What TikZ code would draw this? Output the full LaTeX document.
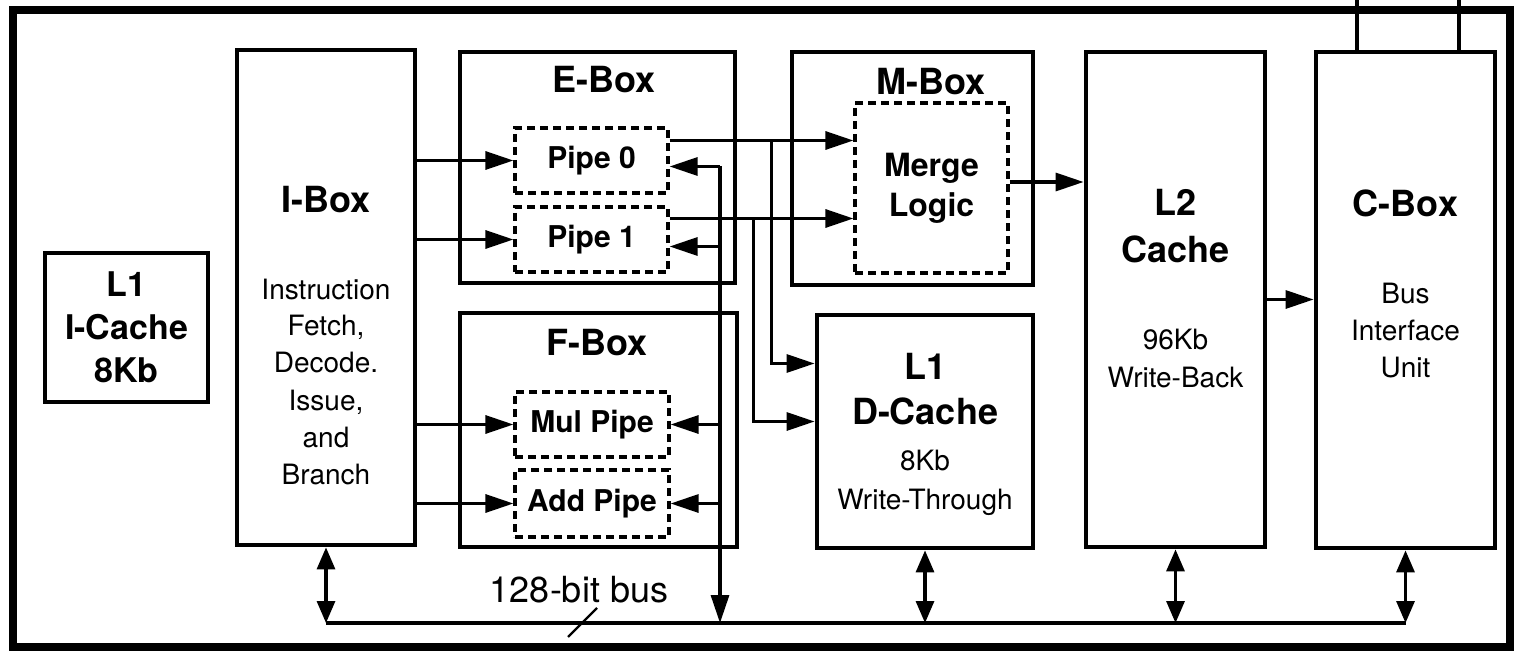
\documentclass[tikz,border=0pt]{standalone}
\usepackage{fontspec}
\setmainfont{TeX Gyre Heros}
\usetikzlibrary{arrows.meta, positioning}

\begin{document}
\begin{tikzpicture}[x=0.5pt, y=-0.5pt, >={Triangle[length=14pt, width=9pt]}, line width=1.6pt]
        \tikzstyle{unitBox} = [rectangle, draw=black, line width=2.4pt, inner sep=0pt]
        \tikzstyle{pipeBox} = [rectangle, draw=black, line width=1.6pt, dash pattern=on 4pt off 2.5pt, inner sep=0pt, align=center, font=\fontsize{15}{19}\selectfont\bfseries]
        \tikzstyle{titleText} = [align=center, inner sep=0pt, font=\fontsize{18}{22.5}\selectfont\bfseries]
        \tikzstyle{descText} = [align=center, inner sep=0pt, font=\fontsize{14}{18.5}\selectfont]
        \tikzstyle{busArrow} = [{Triangle[length=11pt, width=9pt]}-{Triangle[length=11pt, width=9pt]}]

        \useasboundingbox (0,0) rectangle (1518,652);

        % chip outline
        \node[rectangle, draw, line width=4pt, minimum width=748.5pt, minimum height=318.5pt] (chip) at (761.5,328.5) {};

        \node[unitBox, titleText, font=\fontsize{17}{21.5}\selectfont\bfseries, minimum width=81.5pt, minimum height=74.5pt] (icache) at (126.5,327.5) {L1\\I-Cache\\8Kb};

        \node[unitBox, minimum width=89pt, minimum height=247.5pt] (ibox) at (326,297.5) {};
        \node[titleText] (iboxTitle) at (326,200) {I-Box};
        \node[descText] (iboxText) at (326,381.5) {Instruction\\Fetch,\\Decode.\\Issue,\\and\\Branch};

        \node[unitBox, minimum width=137.5pt, minimum height=115.5pt] (ebox) at (597.5,167.5) {};
        \node[titleText] (eboxTitle) at (604,80) {E-Box};
        \node[pipeBox, minimum width=76.5pt, minimum height=32.5pt] (pipe0) at (591.5,160.5) {Pipe 0};
        \node[pipeBox, minimum width=76.5pt, minimum height=32.5pt] (pipe1) at (591.5,239.5) {Pipe 1};

        \node[unitBox, minimum width=138.5pt, minimum height=117pt] (fbox) at (598.5,430) {};
        \node[titleText] (fboxTitle) at (597,343) {F-Box};
        \node[pipeBox, minimum width=77pt, minimum height=32.5pt] (mulpipe) at (592,424.5) {Mul Pipe};
        \node[pipeBox, minimum width=77pt, minimum height=33.5pt] (addpipe) at (592,503.5) {Add Pipe};

        \node[unitBox, minimum width=120.5pt, minimum height=116.5pt] (mbox) at (912.5,168.5) {};
        \node[titleText] (mboxTitle) at (931,82) {M-Box};
        \node[pipeBox, font=\fontsize{16}{20}\selectfont\bfseries, minimum width=76.5pt, minimum height=85pt] (merge) at (931.5,188) {Merge\\Logic};

        \node[unitBox, minimum width=108pt, minimum height=116.5pt] (dcache) at (925,431.5) {};
        \node[titleText] (dcacheTitle) at (925,389.5) {L1\\D-Cache};
        \node[descText, font=\fontsize{14}{19.5}\selectfont] (dcacheText) at (925,482.5) {8Kb\\Write-Through};

        \node[unitBox, minimum width=89.5pt, minimum height=247.5pt] (ltwo) at (1175.5,299.5) {};
        \node[titleText, font=\fontsize{18}{23.5}\selectfont\bfseries] (ltwoTitle) at (1175.5,226.5) {L2\\Cache};
        \node[descText] (ltwoText) at (1175.5,358.5) {96Kb\\Write-Back};

        \node[unitBox, minimum width=89.5pt, minimum height=248pt] (cbox) at (1405.5,300) {};
        \node[titleText] (cboxTitle) at (1405.5,203) {C-Box};
        \node[descText] (cboxText) at (1405.5,330.5) {Bus\\Interface\\Unit};

        % issue paths
        \foreach \p in {pipe0, pipe1, mulpipe, addpipe}
            \draw[->] (ibox.east |- \p.west) -- (\p.west);

        % pipe results
        \coordinate (p0out) at ([yshift=10pt]pipe0.east);
        \coordinate (p1out) at ([yshift=10.5pt]pipe1.east);
        \draw[->] (p0out) -- (p0out -| merge.west);
        \draw[->] (p1out) -- (p1out -| merge.west);
        \path (p0out) ++(51pt,0) coordinate (tap0);
        \path (p1out) ++(42pt,0) coordinate (tap1);
        \draw[->] (tap0) |- ([yshift=34pt]dcache.west);
        \draw[->] (tap1) |- ([yshift=5pt]dcache.west);

        \coordinate (mout) at ([yshift=3pt]merge.east);
        \draw[->] (mout) -- (mout -| ltwo.west);
        \draw[->] (ltwo.east) -- (ltwo.east -| cbox.west);

        % 128-bit bus
        \coordinate (busy) at (0,623);
        \coordinate (fb) at (720,623);
        \draw (ibox.south |- busy) -- (cbox.south |- busy);
        \foreach \b in {ibox, dcache, ltwo, cbox}
            \draw[busArrow] (\b.south) -- (\b.south |- busy);

        \coordinate (p0in) at ([yshift=-3pt]pipe0.east);
        \coordinate (p1in) at ([yshift=-3.5pt]pipe1.east);
        \draw[->] (p0in -| fb) -- (fb);
        \foreach \p in {p0in, p1in, mulpipe.east, addpipe.east}
            \draw[->] (fb |- \p) -- (\p);

        \node[inner sep=0pt, font=\fontsize{18}{22}\selectfont] (busLabel) at (579,590) {128-bit bus};
        \coordinate (busTick) at (582.5,622.5);
        \draw[line width=1.2pt] (busTick) ++(-7.25pt,-7.25pt) -- ++(14.5pt,14.5pt);

        % off-chip wires
        \coordinate (extA) at (1357,0);
        \coordinate (extB) at (1459,0);
        \draw (extA |- cbox.north) -- (extA);
        \draw (extB |- cbox.north) -- (extB);
    \end{tikzpicture}
\end{document}
